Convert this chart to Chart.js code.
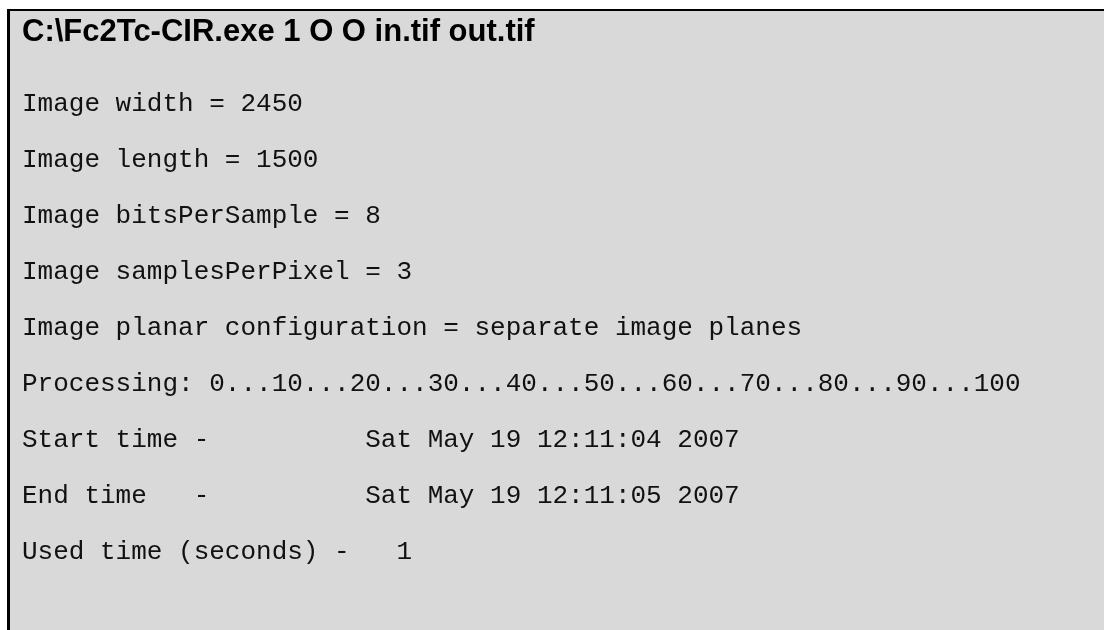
<!DOCTYPE html>
<html>
<head>
<meta charset="utf-8">
<script src="https://cdn.jsdelivr.net/npm/chart.js@4/dist/chart.umd.min.js"></script>
<style>
  html, body { margin: 0; padding: 0; background: #fff; }
  #panel {
    position: absolute; left: 7px; top: 9px;
    width: 1097px; height: 621px;
    box-sizing: border-box;
    border-top: 2px solid #000; border-left: 3px solid #000;
    background: #d9d9d9;
  }
  #console { display: block; }
</style>
</head>
<body>
<div id="panel"><canvas id="console" width="1094" height="619"></canvas></div>
<script>
// command that was run
const commandLine = 'C:\\Fc2Tc-CIR.exe 1 O O in.tif out.tif';

// image properties printed by the tool
const imageFields = ['width', 'length', 'bitsPerSample', 'samplesPerPixel', 'planar configuration'];
const imageValues = ['2450', '1500', '8', '3', 'separate image planes'];

// progress steps (percent)
const progressSteps = [0, 10, 20, 30, 40, 50, 60, 70, 80, 90, 100];

// timing
const startTime = 'Sat May 19 12:11:04 2007';
const endTime = 'Sat May 19 12:11:05 2007';
const usedSeconds = 1;

const outputLines = [
  ...imageFields.map((f, i) => 'Image ' + f + ' = ' + imageValues[i]),
  'Processing: ' + progressSteps.join('...'),
  'Start time -          ' + startTime,
  'End time   -          ' + endTime,
  'Used time (seconds) -   ' + usedSeconds
];

const ctx = document.getElementById('console').getContext('2d');

// no data marks, the console lines are the y axis labels
new Chart(ctx, {
  type: 'line',
  data: { labels: [], datasets: [] },
  options: {
    responsive: false,
    animation: false,
    events: [],
    layout: { padding: { left: 12, top: 0, right: 0, bottom: 78 } },
    plugins: {
      legend: { display: false },
      tooltip: { enabled: false },
      title: {
        display: true,
        text: commandLine,
        align: 'start',
        color: '#000',
        font: { family: 'Liberation Sans', size: 31, weight: 'bold', lineHeight: 1.2 },
        padding: { top: 3, bottom: 53 }
      }
    },
    scales: {
      x: { display: false },
      y: {
        type: 'category',
        labels: outputLines,
        offset: false,
        grid: { display: false, drawTicks: false },
        border: { display: false },
        ticks: {
          autoSkip: false,
          mirror: true,
          padding: 0,
          color: '#111',
          font: { family: 'Liberation Mono', size: 26 }
        }
      }
    }
  }
});
</script>
</body>
</html>
